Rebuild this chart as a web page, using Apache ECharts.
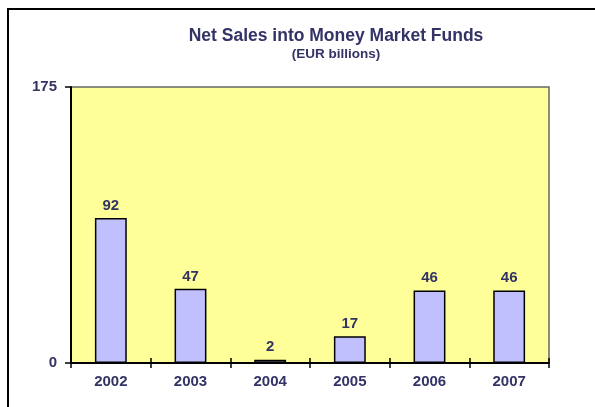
<!DOCTYPE html>
<html>
<head>
<meta charset="utf-8">
<script src="https://cdn.jsdelivr.net/npm/echarts@6/dist/echarts.min.js"></script>
<style>html,body{margin:0;padding:0;background:#fff}#c{width:595px;height:407px}</style>
</head>
<body>
<div id="c"></div>
<script>
var categories = ['2002', '2003', '2004', '2005', '2006', '2007'];
var netSales = [92, 47, 2, 17, 46, 46];
var yTicks = [0, 175];

var navy = '#333366';
var font = 'Liberation Sans, Arial';
var chart = echarts.init(document.getElementById('c'));
chart.setOption({
  animation: false,
  title: [{
    text: 'Net Sales into Money Market Funds',
    left: 331, top: 22, textAlign: 'center',
    textStyle: {fontFamily: font, fontWeight: 'bold', fontSize: 17.5, color: navy}
  }, {
    text: '(EUR billions)',
    left: 331, top: 42, textAlign: 'center',
    textStyle: {fontFamily: font, fontWeight: 'bold', fontSize: 13.5, color: navy}
  }],
  graphic: [{
    type: 'rect', shape: {x: 8, y: 9, width: 620, height: 430},
    style: {fill: 'none', stroke: '#000', lineWidth: 2}, z: -1
  }],
  grid: {left: 71, right: 46, top: 87, bottom: 44, backgroundColor: '#FFFF99', show: true, borderColor: '#666', borderWidth: 1.5},
  xAxis: [{
    type: 'category', data: categories,
    axisLine: {lineStyle: {color: '#000', width: 2}},
    axisTick: {show: true, length: 5, lineStyle: {color: '#000', width: 1.5}},
    axisLabel: {color: navy, fontWeight: 'bold', fontSize: 15, fontFamily: font, margin: 11}
  }, {
    type: 'category', data: categories, position: 'bottom',
    axisLine: {show: false},
    axisTick: {show: true, inside: true, length: 5, lineStyle: {color: '#000', width: 1.5}},
    axisLabel: {show: false}
  }],
  yAxis: {
    type: 'value', min: yTicks[0], max: yTicks[1], interval: 175,
    axisLine: {show: true, lineStyle: {color: '#000', width: 2}},
    axisTick: {show: true, length: 6, lineStyle: {color: '#000', width: 1.5}},
    splitLine: {show: false},
    axisLabel: {color: navy, fontWeight: 'bold', fontSize: 15, fontFamily: font, margin: 14}
  },
  series: [{
    type: 'bar', data: netSales, barWidth: '40%',
    itemStyle: {color: '#C0C0FF', borderColor: '#000', borderWidth: 1.5},
    label: {show: true, position: 'top', color: navy, fontWeight: 'bold', fontSize: 15, fontFamily: font, distance: 5}
  }]
});
</script>
</body>
</html>
